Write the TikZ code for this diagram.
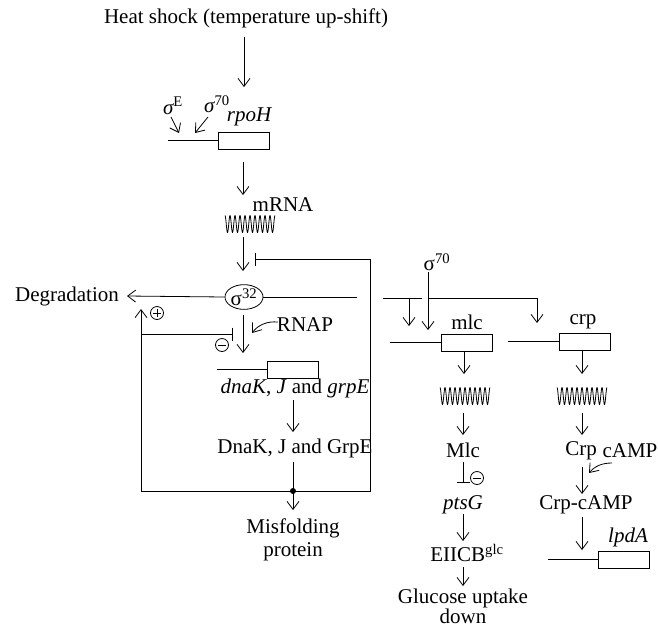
\documentclass[tikz,border=0pt]{standalone}
\usepackage{fontspec}
\setmainfont{Liberation Serif}
\usetikzlibrary{arrows.meta,shapes.geometric}
\begin{document}
\begin{tikzpicture}[x=1pt,y=-1pt,line width=0.8pt,
  every node/.style={font=\fontsize{21}{23}\selectfont, inner sep=0pt},
  arr/.style={-{Straight Barb[length=8pt,width=12pt,line width=0.8pt]}},
  inh/.style={-{Bar[width=13pt,line width=0.8pt]}},
  genebox/.style={draw, rectangle, minimum width=51pt, minimum height=17pt, inner sep=0pt},
  signode/.style={draw, circle, minimum size=13pt, inner sep=0pt},
  plussign/.style={signode, path picture={
     \draw[line width=0.7pt] ([xshift=-4pt]path picture bounding box.center) -- ([xshift=4pt]path picture bounding box.center);
     \draw[line width=0.7pt] ([yshift=-4pt]path picture bounding box.center) -- ([yshift=4pt]path picture bounding box.center);}},
  minussign/.style={signode, path picture={
     \draw[line width=0.7pt] ([xshift=-4pt]path picture bounding box.center) -- ([xshift=4pt]path picture bounding box.center);}}
]
\useasboundingbox (0,0) rectangle (658,630);
\newcommand{\mrnawave}[2]{\draw[line join=round] plot[domain=0:50, samples=201] ({#1+\x},{#2+8.5*sin(\x*72-90)});}

% ---------- top: heat shock -> rpoH ----------
\node (heat) at (246,18) {Heat shock (temperature up-shift)};
\coordinate (h1) at (244,37);
\coordinate (h2) at (244,87);
\draw[arr] (h1) -- (h2);

\node (sigE) at (173,106) {{\itshape σ}\textsuperscript{E}};
\node (sig70a) at (217,104) {{\itshape σ}\textsuperscript{70}};
\coordinate (sE1) at (171,117); \coordinate (sE2) at (179,133);
\coordinate (s7a1) at (208,117); \coordinate (s7a2) at (195,133);
\draw[arr] (sE1) -- (sE2);
\draw[arr] (s7a1) -- (s7a2);

\node (rpoHt) at (249,117) {\itshape rpoH};
\node[genebox, anchor=west] (rpoH) at (218,140.5) {};
\coordinate (rp0) at (168,140.5);
\draw (rp0) -- (rpoH.west);

\coordinate (m1) at (243,162); \coordinate (m2) at (243,195);
\draw[arr] (m1) -- (m2);
\node (mrnat) at (283,205) {mRNA};
\mrnawave{225}{224}

\coordinate (m3) at (243,237); \coordinate (m4) at (243,271);
\draw[arr] (m3) -- (m4);

% feedback inhibition
\coordinate (fbR) at (370,259);
\coordinate (fbT) at (255,259);
\coordinate (boxR) at (370,491);
\coordinate (boxL) at (141,491);
\coordinate (dot) at (293,491);
\draw[inh] (fbR) -- (fbT);
\draw (fbR) -- (boxR) -- (boxL);

% ---------- sigma32 ----------
\node[draw, ellipse, minimum width=38pt, minimum height=23pt, inner sep=0pt] (s32) at (244,297) {σ\textsuperscript{32}};
\node (degr) at (67,296) {Degradation};
\draw[arr] (s32.west) -- (degr.east -| 127,0);
\coordinate (s32r) at (357,297);
\draw (s32.east) -- (s32r);

% plus / minus loops on left
\coordinate (upL) at (141,309);
\draw[arr] (boxL) -- (upL);
\node[plussign] (plus) at (157,313) {};
\coordinate (inhL) at (141,334);
\coordinate (inhT) at (233,334);
\draw[inh] (inhL) -- (inhT);
\node[minussign] (minus1) at (222,345) {};

\coordinate (d1) at (243,315); \coordinate (d2) at (243,353);
\draw[arr] (d1) -- (d2);
\node (rnap) at (305,325) {RNAP};
\coordinate (rn1) at (278,322); \coordinate (rn2) at (252,333);
\draw[arr] (rn1) .. controls (267,321) and (258,325) .. (rn2);

\node[genebox, anchor=west] (dnaK) at (267,369.5) {};
\coordinate (dk0) at (217,369.5);
\draw (dk0) -- (dnaK.west);
\node (dnaKt) at (295,388) {\textit{dnaK}, \textit{J} and \textit{grpE}};
\coordinate (k1) at (293,400); \coordinate (k2) at (293,432);
\draw[arr] (k1) -- (k2);
\node (DnaK) at (295,448) {DnaK, J and GrpE};
\coordinate (k3) at (293,462); \coordinate (k4) at (293,510);
\draw[arr] (k3) -- (k4);
\fill (dot) circle (3pt);
\node[align=center] (misf) at (293,540) {Misfolding\\protein};

% ---------- right branch ----------
\coordinate (rb0) at (383,298);
\coordinate (rb1) at (422,298);
\coordinate (rb2) at (428,298);
\coordinate (rb3) at (537,298);
\draw (rb0) -- (rb1);
\draw (rb2) -- (rb3);
\coordinate (a1) at (409,298); \coordinate (a2) at (409,326);
\draw[arr] (a1) -- (a2);
\coordinate (a3) at (537,323);
\draw[arr] (rb3) -- (a3);
\node (sig70b) at (437,262) {σ\textsuperscript{70}};
\coordinate (s7b1) at (428,272); \coordinate (s7b2) at (428,330);
\draw[arr] (s7b1) -- (s7b2);

\node (mlct) at (467,322) {mlc};
\node (crpt) at (583,322) {crp};
\node[genebox, anchor=west] (mlc) at (441,342.5) {};
\coordinate (ml0) at (390,342.5);
\draw (ml0) -- (mlc.west);
\node[genebox, anchor=west] (crp) at (559,341.5) {};
\coordinate (cr0) at (508,341.5);
\draw (cr0) -- (crp.west);

% mlc column
\coordinate (ma1) at (464,351); \coordinate (ma2) at (464,374);
\draw[arr] (ma1) -- (ma2);
\mrnawave{440}{396}
\coordinate (ma3) at (463,413); \coordinate (ma4) at (463,435);
\draw[arr] (ma3) -- (ma4);
\node (Mlc) at (463,450) {Mlc};
\coordinate (mi1) at (463,462); \coordinate (mi2) at (463,483);
\draw[inh] (mi1) -- (mi2);
\node[minussign] (minus2) at (477,478) {};
\node (ptsG) at (463,505) {\itshape ptsG};
\coordinate (ma5) at (463,514); \coordinate (ma6) at (463,541);
\draw[arr] (ma5) -- (ma6);
\node (eiicb) at (467,553) {EIICB\textsuperscript{glc}};
\coordinate (ma7) at (463,567); \coordinate (ma8) at (463,586);
\draw[arr] (ma7) -- (ma8);
\node[align=center, font=\fontsize{21}{20}\selectfont] (gluc) at (463,606) {Glucose uptake\\down};

% crp column
\coordinate (ca1) at (582,350); \coordinate (ca2) at (582,374);
\draw[arr] (ca1) -- (ca2);
\mrnawave{557}{396}
\coordinate (ca3) at (582,413); \coordinate (ca4) at (582,435);
\draw[arr] (ca3) -- (ca4);
\node (Crp) at (581,451) {Crp};
\node (camp) at (630,451) {cAMP};
\coordinate (cm1) at (612,463); \coordinate (cm2) at (589,473);
\draw[arr] (cm1) .. controls (602,463) and (595,466) .. (cm2);
\coordinate (ca5) at (582,467); \coordinate (ca6) at (582,494);
\draw[arr] (ca5) -- (ca6);
\node (crpcamp) at (586,505) {Crp-cAMP};
\coordinate (ca7) at (582,517); \coordinate (ca8) at (582,550);
\draw[arr] (ca7) -- (ca8);
\node (lpdAt) at (628,537) {\itshape lpdA};
\node[genebox, anchor=west] (lpdA) at (598,559.5) {};
\coordinate (lp0) at (548,559.5);
\draw (lp0) -- (lpdA.west);
\end{tikzpicture}
\end{document}
